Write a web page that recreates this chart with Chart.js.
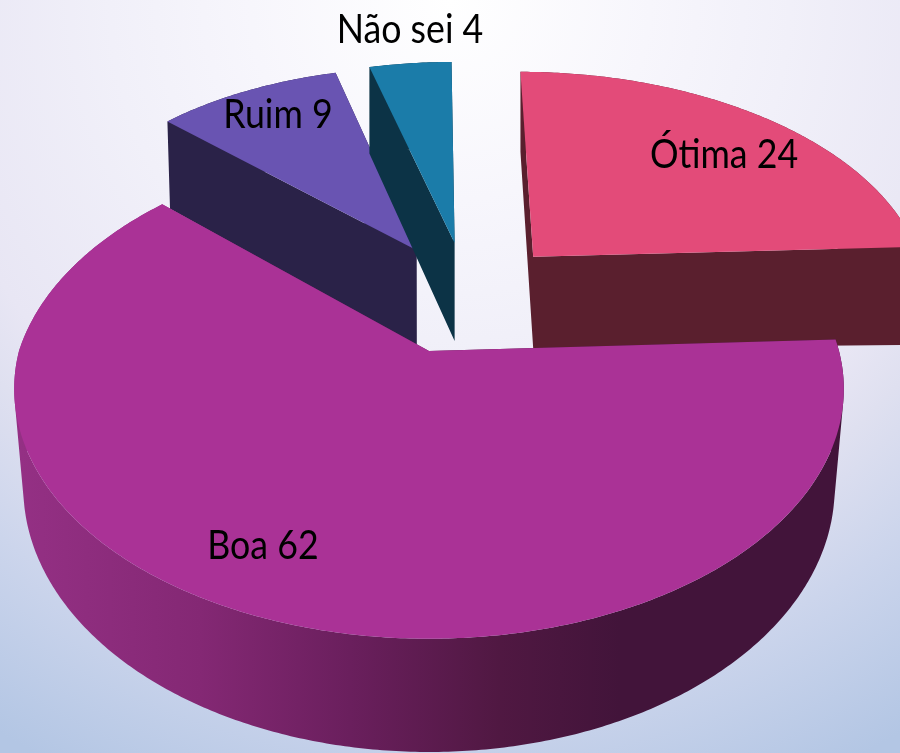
<!DOCTYPE html>
<html><head><meta charset="utf-8">
<style>
html,body{margin:0;padding:0;width:900px;height:753px;overflow:hidden}
body{background:radial-gradient(circle 900px at 450px 0,#ffffff 0,#f7f6fc 200px,#f1f0f9 340px,#e8e6f4 530px,#dfe0f0 590px,#ccd5ec 700px,#b3c6e4 860px)}
canvas{display:block}
</style>
<script src="https://cdn.jsdelivr.net/npm/chart.js@4/dist/chart.umd.min.js"></script>
</head><body>
<canvas id="c" width="900" height="753"></canvas>
<script>
const categories = ['Ótima','Boa','Ruim','Não sei'];
const values = [24,62,9,4];
const topColors = ['#e34b79','#aa3296','#6954b2','#1b7ca9'];
const sideColors = ['#5a1f2e',null,'#2a2248','#0c3346'];

// projection of the pie plane
const P = {x0:429,y0:351,A:244,B:410,k:0.152,depth:99};
// per-slice look: explosion in the pie plane, radii, thickness, thickness tilt, far-face scale
const explode = [[0.27,-0.41],[0,0],[-0.032,-0.44],[0.067,-0.4745]];
const radiusX = [1,1,0.97,0.97];
const radiusY = [0.975,1,0.97,0.97];
const backLeftTrim = [0,0.037,0,0];
const thick = [0.985,0.97,1.03,1.06];
const tilt = [0.018,0,0,0];
const lowScale = [1,0.978,0.99,1];
const paintOrder = [2,3,0,1];
const labelAt = [[724,155],[263,546],[278,115],[410,30]];

function proj(i,u,v,low){
  const w=1-P.k*v;
  if(!low) return [P.x0+P.B*u/w, P.y0+P.A*v/w];
  const x=P.x0+lowScale[i]*P.B*u/w;
  const ax=P.x0+P.B*explode[i][0];
  return [x, P.y0+(P.A*v+P.depth*thick[i])/w+tilt[i]*(x-ax)];
}
function rimPts(i,a0,a1,low){
  const e=explode[i],n=Math.max(2,Math.ceil(Math.abs(a1-a0)/0.01)),pts=[];
  for(let j=0;j<=n;j++){
    const t=a0+(a1-a0)*j/n,c=Math.cos(t),s=Math.sin(t);
    const f=(c<0&&s<0)?1+backLeftTrim[i]*s:1;
    pts.push(proj(i,f*radiusX[i]*c+e[0],f*radiusY[i]*s+e[1],low));
  }
  return pts;
}
function addPoly(ctx,pts){
  // same winding for every piece so that the union fills without seams
  let area=0;
  pts.forEach((p,j)=>{const q=pts[(j+1)%pts.length];area+=p[0]*q[1]-q[0]*p[1];});
  const o=area<0?pts.slice().reverse():pts;
  o.forEach((p,j)=>j?ctx.lineTo(p[0],p[1]):ctx.moveTo(p[0],p[1]));
  ctx.closePath();
}
const pie3d={
  id:'pie3d',
  beforeDatasetsDraw(chart){
    const ctx=chart.ctx,arcs=chart.getDatasetMeta(0).data;
    const g=ctx.createLinearGradient(20,0,620,0);
    g.addColorStop(0,'#943084');
    g.addColorStop(0.3,'#842874');
    g.addColorStop(0.55,'#6a1f5d');
    g.addColorStop(0.8,'#501842');
    g.addColorStop(1,'#42143a');
    ctx.save();
    paintOrder.forEach(i=>{
      const a=arcs[i],s=a.startAngle,t=a.endAngle,e=explode[i];
      const apexT=proj(i,e[0],e[1],false),apexL=proj(i,e[0],e[1],true);
      const top=rimPts(i,s,t,false),low=rimPts(i,s,t,true);
      ctx.beginPath();
      addPoly(ctx,[apexT,top[0],low[0],apexL]);
      addPoly(ctx,[apexT,top[top.length-1],low[low.length-1],apexL]);
      for(let j=0;j<top.length-1;j++)
        addPoly(ctx,[top[j],top[j+1],low[j+1],low[j]]);
      ctx.fillStyle=sideColors[i]||g;
      ctx.fill();
      ctx.beginPath();
      addPoly(ctx,[apexT].concat(top));
      ctx.fillStyle=a.options.backgroundColor;
      ctx.fill();
    });
    ctx.fillStyle='#000';
    ctx.font='38px Lato';
    ctx.textAlign='center';
    ctx.textBaseline='middle';
    categories.forEach((c,i)=>{
      ctx.save();
      ctx.translate(labelAt[i][0],labelAt[i][1]);
      ctx.scale(0.94,1.08);
      ctx.fillText(c+' '+values[i],0,0);
      ctx.restore();
    });
    ctx.restore();
    return false;
  }
};
new Chart(document.getElementById('c'),{
  type:'pie',
  data:{labels:categories,datasets:[{data:values,backgroundColor:topColors,borderWidth:0}]},
  options:{responsive:false,animation:false,
    plugins:{legend:{display:false},tooltip:{enabled:false}}},
  plugins:[pie3d]
});
</script>
</body></html>
